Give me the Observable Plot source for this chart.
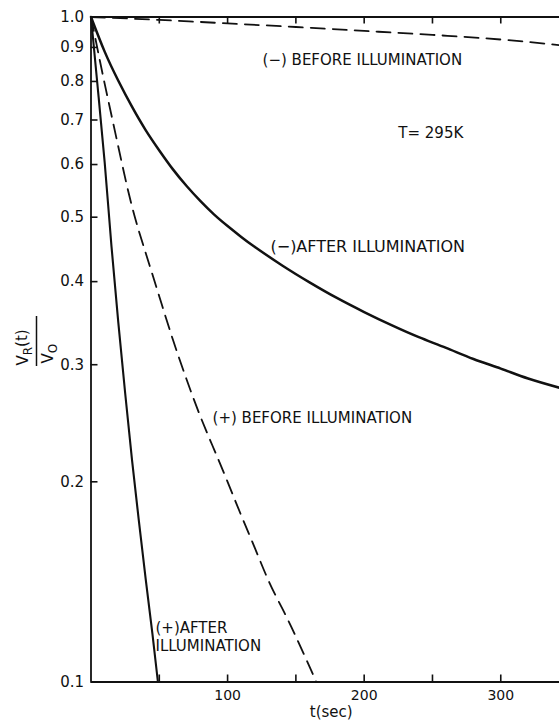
<!DOCTYPE html>
<html><head><meta charset="utf-8">
<script src="https://cdn.jsdelivr.net/npm/d3@7"></script>
<script src="https://cdn.jsdelivr.net/npm/@observablehq/plot@0.6"></script>
<style>body{margin:0;background:#fff}</style>
</head><body><div id="chart"></div>
<script>
// Axis ticks
const yTicks = [0.1,0.2,0.3,0.4,0.5,0.6,0.7,0.8,0.9,1.0];
const xTicks = [50,100,150,200,250,300];
const xTickLabels = [100,200,300];

// Curves (t in sec, V_R/V_0)
const tMinusBefore = [0,50,100,150,200,250,300,343];
const vMinusBefore = [1.0,0.99,0.978,0.966,0.953,0.94,0.925,0.907];

const tMinusAfter = [0,10,20,30,40,50,60,70,80,90,100,110,120,140,160,180,200,220,240,260,280,300,320,343];
const vMinusAfter = [1.0,0.887,0.802,0.733,0.676,0.63,0.59,0.557,0.529,0.505,0.485,0.467,0.451,0.423,0.399,0.378,0.36,0.344,0.33,0.318,0.306,0.296,0.286,0.277];

const tPlusBefore = [0,5,10,20,30,40,50,60,70,80,90,100,110,120,130,140,150,165];
const vPlusBefore = [1.0,0.89,0.794,0.638,0.519,0.442,0.38,0.327,0.285,0.251,0.224,0.2,0.178,0.159,0.142,0.129,0.117,0.1];

const tPlusAfter = [0,5,10,15,20,25,30,35,40,45,49];
const vPlusAfter = [1.0,0.78,0.605,0.452,0.347,0.272,0.216,0.175,0.143,0.118,0.1];

// Annotations
const noteText = ["(\u2212) BEFORE ILLUMINATION","T= 295K","(\u2212)AFTER ILLUMINATION","(+) BEFORE ILLUMINATION","(+)AFTER\nILLUMINATION"];
const noteT = [125.6,225,131.4,89,47.2];
const noteV = [0.863,0.671,0.453,0.25,0.117];
const noteSize = [15,15,16,15,15];

const toRows = (ts, vs) => ts.map((t,i) => ({t, v: vs[i]}));
const notes = noteText.map((s,i) => ({s, t: noteT[i], v: noteV[i], fs: noteSize[i]}));
const ink = "#111";

const W = 559, H = 723, mL = 90.5, mR = 0, mT = 16.5, mB = 41.5;
const frameW = W - mL - mR, frameH = H - mT - mB, tick = 7;

const chart = Plot.plot({
  width: W, height: H,
  marginLeft: mL, marginRight: mR, marginTop: mT, marginBottom: mB,
  style: {fontFamily: "DejaVu Sans", fontSize: "15px", color: ink, background: "#fff"},
  x: {domain: [0, 343]},
  y: {type: "log", domain: [0.1, 1.0]},
  marks: [
    Plot.ruleX([0], {stroke: ink, strokeWidth: 1.8}),
    Plot.ruleY([1.0, 0.1], {stroke: ink, strokeWidth: 1.8}),
    // inward tick marks
    Plot.tickY(yTicks, {y: d => d, insetRight: frameW - tick, stroke: ink, strokeWidth: 1.6}),
    Plot.tickX(xTicks, {x: d => d, insetTop: frameH - tick, stroke: ink, strokeWidth: 1.6}),
    Plot.tickX(xTicks, {x: d => d, insetBottom: frameH - tick, stroke: ink, strokeWidth: 1.6}),
    // tick labels
    Plot.axisY({ticks: yTicks, tickSize: 0, tickPadding: 7, tickFormat: d => d.toFixed(1), label: null, fontSize: 15}),
    Plot.axisX({ticks: xTickLabels, tickSize: 0, tickPadding: 8, tickFormat: d => String(d), label: null, fontSize: 14}),
    // curves
    Plot.line(toRows(tMinusBefore, vMinusBefore), {x: "t", y: "v", stroke: ink, strokeWidth: 1.8, strokeDasharray: "14,8", curve: "natural"}),
    Plot.line(toRows(tMinusAfter, vMinusAfter), {x: "t", y: "v", stroke: ink, strokeWidth: 2.5, curve: "natural"}),
    Plot.line(toRows(tPlusBefore, vPlusBefore), {x: "t", y: "v", stroke: ink, strokeWidth: 1.8, strokeDasharray: "14,8", curve: "natural"}),
    Plot.line(toRows(tPlusAfter, vPlusAfter), {x: "t", y: "v", stroke: ink, strokeWidth: 2.1, curve: "natural"}),
    // annotations
    Plot.text(notes, {x: "t", y: "v", text: "s", fontSize: "fs", textAnchor: "start", lineAnchor: "middle", lineHeight: 1.2, fill: ink}),
    Plot.text(["t(sec)"], {text: d => d, frameAnchor: "bottom", dx: 6, dy: 30.5, lineAnchor: "middle", fontSize: 15, fill: ink}),
    Plot.text(["VR(t)"], {text: d => d, frameAnchor: "left", rotate: -90, textAnchor: "start", lineAnchor: "middle", dx: -67.5, dy: 16, fontSize: 15, fill: ink, className: "ynum"}),
    Plot.text(["VO"], {text: d => d, frameAnchor: "left", rotate: -90, textAnchor: "start", lineAnchor: "middle", dx: -42.5, dy: 14, fontSize: 15, fill: ink, className: "yden"})
  ]
});

document.getElementById("chart").appendChild(chart);

// subscripts for the y label fraction and the fraction bar
const svg = d3.select(chart);
svg.selectAll(".ynum text").each(function() {
  const t = d3.select(this); t.text(null);
  t.append("tspan").text("V");
  t.append("tspan").attr("dy", "0.3em").attr("font-size", "12px").text("R");
  t.append("tspan").attr("dy", "-0.3em").text("(t)");
});
svg.selectAll(".yden text").each(function() {
  const t = d3.select(this); t.text(null);
  t.append("tspan").text("V");
  t.append("tspan").attr("dy", "0.3em").attr("font-size", "12px").text("O");
});
svg.append("line").attr("x1", 36.5).attr("x2", 36.5).attr("y1", 316).attr("y2", 366)
  .attr("stroke", ink).attr("stroke-width", 1.5);
</script>
</body></html>
